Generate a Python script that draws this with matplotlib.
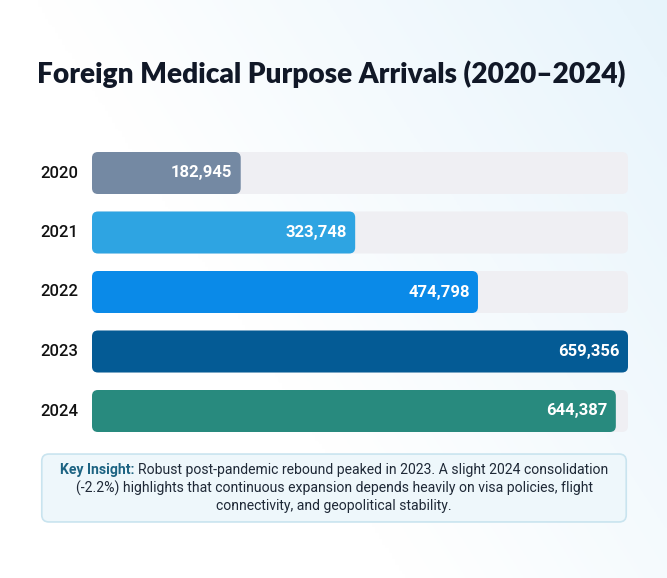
import numpy as np
import matplotlib.pyplot as plt
from matplotlib.patches import FancyBboxPatch
from matplotlib import font_manager

years = ["2020", "2021", "2022", "2023", "2024"]
arrivals = [182945, 323748, 474798, 659356, 644387]
bar_colors = ["#7489a3", "#2ea4e2", "#0a8ae8", "#045b95", "#288a7e"]
title = "Foreign Medical Purpose Arrivals (2020\u20132024)"
insight_head = "Key Insight:"
insight_body = ("Robust post-pandemic rebound peaked in 2023. A slight 2024 consolidation\n"
                "(-2.2%) highlights that continuous expansion depends heavily on visa policies, flight\n"
                "connectivity, and geopolitical stability.")

names = {f.name for f in font_manager.fontManager.ttflist}
narrow = "Liberation Sans Narrow" if "Liberation Sans Narrow" in names else "Roboto"

W, H = 667, 578
fig = plt.figure(figsize=(W / 100, H / 100), dpi=100)

# soft blue wash in the background
bg = fig.add_axes([0, 0, 1, 1], zorder=-5)
gx = np.linspace(0, 1, 200)
gy = np.linspace(0, 1, 200)
X, Y = np.meshgrid(gx, gy)
t = np.clip(0.9 * X + 0.5 * (1 - Y) - 0.55, 0, 1)
c0 = np.array([1.0, 1.0, 1.0])
c1 = np.array([0.89, 0.95, 0.985])
img = c0 + (c1 - c0) * t[..., None]
bg.imshow(img, extent=[0, 1, 0, 1], aspect="auto", origin="upper")
bg.axis("off")


def px(x0, y0, w, h):
    return [x0 / W, 1 - (y0 + h) / H, w / W, h / H]


fig.text(331 / W, 1 - 74 / H, title, ha="center", va="center",
         fontsize=20.2, fontweight="heavy", color="#111827", family="Lato")

track_w = 536
ax = fig.add_axes(px(92, 143.25, track_w, 297.5))
vmax = max(arrivals)
ax.set_xlim(0, vmax)
ax.set_ylim(len(years) - 0.5, -0.5)
ax.axis("off")

bh = 42 / 59.5
xu = vmax / track_w
yu = 1 / 59.5
aspect = yu / xu
for i, (yr, v, col) in enumerate(zip(years, arrivals, bar_colors)):
    track = FancyBboxPatch((0, i - bh / 2), vmax, bh,
                           boxstyle=f"round,pad=0,rounding_size={6 * xu}",
                           mutation_aspect=aspect, fc="#efeff3", ec="none", zorder=1)
    ax.add_patch(track)
    bar = FancyBboxPatch((0, i - bh / 2), v, bh,
                         boxstyle=f"round,pad=0,rounding_size={6 * xu}",
                         mutation_aspect=aspect, fc=col, ec="none", zorder=2)
    ax.add_patch(bar)
    ax.annotate(f"{v:,}", (v, i), xytext=(-6, 0), textcoords="offset points",
                ha="right", va="center", color="white", fontsize=12,
                fontweight="bold", family=narrow, zorder=3)
    ax.text(-52 / track_w, i, yr, transform=ax.get_yaxis_transform(),
            ha="left", va="center", fontsize=12, color="#111111",
            fontweight="medium", family=narrow)

# insight box
box_ax = fig.add_axes(px(40, 453, 588, 70))
box_ax.set_xlim(0, 1)
box_ax.set_ylim(0, 1)
box_ax.axis("off")
box_ax.add_patch(FancyBboxPatch((0.003, 0.015), 0.994, 0.97,
                                boxstyle="round,pad=0,rounding_size=0.012",
                                mutation_aspect=588 / 70,
                                fc="#eef7fb", ec="#c9e4ef", lw=1.2))

lines = insight_body.split("\n")
ys = [470, 488, 506]
fs = 10.1
r = fig.canvas.get_renderer()
# first line: bold head + body, centered together
head = fig.text(0, 0, insight_head + " ", fontsize=fs, fontweight="bold",
                family=narrow, color="#1c6382")
body = fig.text(0, 0, lines[0], fontsize=fs, family=narrow, color="#1f2937")
wh = head.get_window_extent(r).width
wb = body.get_window_extent(r).width
start = 334 - (wh + wb) / 2
head.set_position((start / W, 1 - ys[0] / H))
head.set_va("center")
body.set_position(((start + wh) / W, 1 - ys[0] / H))
body.set_va("center")
for ln, y in zip(lines[1:], ys[1:]):
    fig.text(334 / W, 1 - y / H, ln, ha="center", va="center", fontsize=fs,
             family=narrow, color="#1f2937")

fig.savefig("out.png", dpi=100)
